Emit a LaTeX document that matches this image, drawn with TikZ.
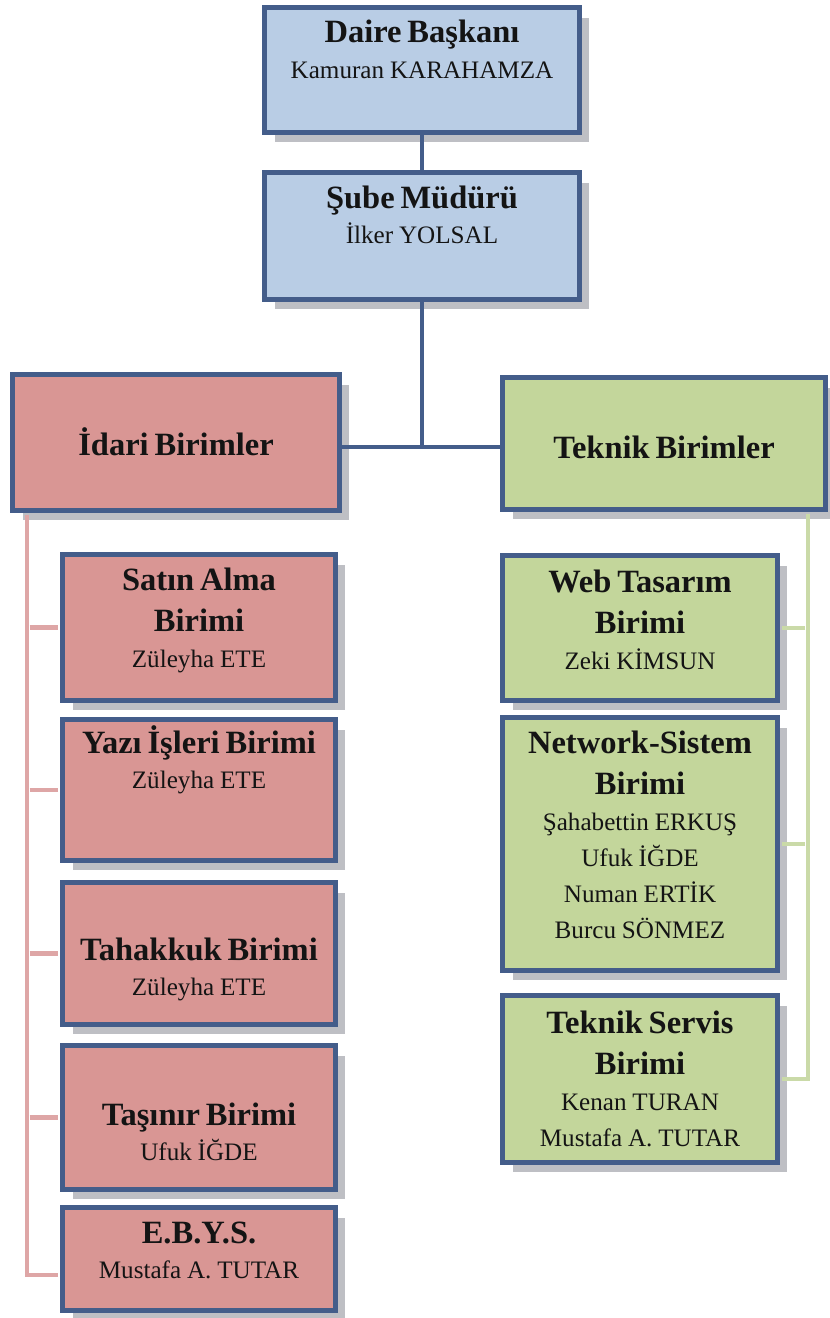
\documentclass[tikz,border=0pt]{standalone}
\usepackage{fontspec}
\setmainfont{Liberation Serif}
\usetikzlibrary{shadows}
\definecolor{unitblue}{RGB}{185,205,229}
\definecolor{unitpink}{RGB}{217,150,148}
\definecolor{unitgreen}{RGB}{195,214,155}
\definecolor{unitborder}{RGB}{68,93,138}
\definecolor{pinkline}{RGB}{222,166,166}
\definecolor{greenline}{RGB}{202,218,168}
\definecolor{shadowgray}{RGB}{190,191,196}
\newcommand{\unittitle}[1]{{\fontsize{18.5}{23.8}\selectfont\bfseries #1\par}}
\newcommand{\unitnames}[1]{{\fontsize{14.3}{20.4}\selectfont #1\par}}
\begin{document}
\begin{tikzpicture}[x=0.02cm,y=-0.02cm,
  unit/.style={draw=unitborder,line width=2.8pt,inner sep=0,
    drop shadow={shadow xshift=0.2cm,shadow yshift=-0.2cm,fill=shadowgray,opacity=1}},
  lbl/.style={anchor=base,text width=6.2cm,align=center,inner sep=0,text=black!92},
  trunk/.style={draw=unitborder,line width=2.8pt},
  pinkbranch/.style={draw=pinkline,line width=2.3pt,shorten >=1.4pt,shorten <=1.4pt},
  greenbranch/.style={draw=greenline,line width=2.3pt,shorten >=1.4pt,shorten <=1.4pt}]
\useasboundingbox (0,0) rectangle (829,1318);

\node (daire) [unit,fill=unitblue,minimum width=6.3cm,minimum height=2.5cm] at (422,70) {};
\node (daire-t) [lbl] at (422,43) {\unittitle{Daire Başkanı}\unitnames{Kamuran KARAHAMZA}};
\node (sube) [unit,fill=unitblue,minimum width=6.3cm,minimum height=2.54cm] at (422,236) {};
\node (sube-t) [lbl] at (422,208) {\unittitle{Şube Müdürü}\unitnames{İlker YOLSAL}};

\node (idari) [unit,fill=unitpink,minimum width=6.54cm,minimum height=2.72cm] at (176,442.5) {};
\node (idari-t) [lbl] at (176,455) {\unittitle{İdari Birimler}};
\node (teknik) [unit,fill=unitgreen,minimum width=6.46cm,minimum height=2.64cm] at (664,443.5) {};
\node (teknik-t) [lbl] at (664,458) {\unittitle{Teknik Birimler}};

\node (satin) [unit,fill=unitpink,minimum width=5.46cm,minimum height=2.92cm] at (199,627.5) {};
\node (satin-t) [lbl] at (199,590) {\unittitle{Satın Alma\\Birimi}\unitnames{Züleyha ETE}};
\node (yazi) [unit,fill=unitpink,minimum width=5.46cm,minimum height=2.82cm] at (199,790) {};
\node (yazi-t) [lbl] at (199,753) {\unittitle{Yazı İşleri Birimi}\unitnames{Züleyha ETE}};
\node (tahakkuk) [unit,fill=unitpink,minimum width=5.46cm,minimum height=2.84cm] at (199,953.5) {};
\node (tahakkuk-t) [lbl] at (199,960) {\unittitle{Tahakkuk Birimi}\unitnames{Züleyha ETE}};
\node (tasinir) [unit,fill=unitpink,minimum width=5.46cm,minimum height=2.88cm] at (199,1117.5) {};
\node (tasinir-t) [lbl] at (199,1125) {\unittitle{Taşınır Birimi}\unitnames{Ufuk İĞDE}};
\node (ebys) [unit,fill=unitpink,minimum width=5.46cm,minimum height=2.06cm] at (199,1259) {};
\node (ebys-t) [lbl] at (199,1243) {\unittitle{E.B.Y.S.}\unitnames{Mustafa A. TUTAR}};

\node (web) [unit,fill=unitgreen,minimum width=5.5cm,minimum height=2.9cm] at (640,628) {};
\node (web-t) [lbl] at (640,592) {\unittitle{Web Tasarım\\Birimi}\unitnames{Zeki KİMSUN}};
\node (network) [unit,fill=unitgreen,minimum width=5.5cm,minimum height=5.06cm] at (640,844) {};
\node (network-t) [lbl] at (640,753) {\unittitle{Network-Sistem\\Birimi}\unitnames{Şahabettin ERKUŞ\\Ufuk İĞDE\\Numan ERTİK\\Burcu SÖNMEZ}};
\node (servis) [unit,fill=unitgreen,minimum width=5.5cm,minimum height=3.34cm] at (640,1079) {};
\node (servis-t) [lbl] at (640,1033) {\unittitle{Teknik Servis\\Birimi}\unitnames{Kenan TURAN\\Mustafa A. TUTAR}};

\draw [trunk] (daire) -- (sube);
\coordinate (bar) at ([yshift=-0.09cm]idari.east);
\draw [trunk] (sube.south) -- (sube.south |- bar);
\draw [trunk] (bar) -- (bar -| teknik.west);

\coordinate (ltrunk) at ([xshift=0.34cm]idari.south west);
\coordinate (ebys-in) at ([yshift=-0.32cm]ebys.west);
\draw [pinkbranch] (ltrunk) |- (ebys-in);
\foreach \u in {satin,yazi,tahakkuk,tasinir}
  \draw [pinkbranch] (ltrunk |- \u.west) -- (\u.west);

\coordinate (rtrunk) at ([xshift=-0.4cm]teknik.south east);
\draw [greenbranch] (rtrunk) |- (servis.east);
\foreach \u in {web,network}
  \draw [greenbranch] (rtrunk |- \u.east) -- (\u.east);
\end{tikzpicture}
\end{document}
